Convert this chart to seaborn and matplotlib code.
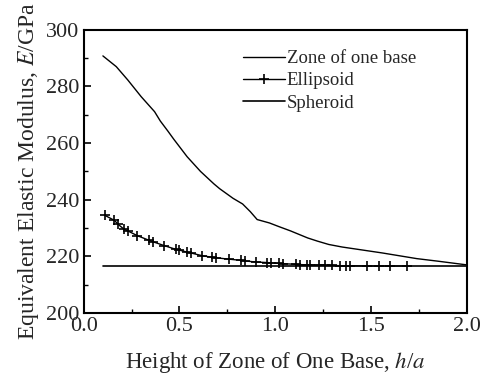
import numpy as np
import pandas as pd
import seaborn as sns
import matplotlib
matplotlib.use("Agg")
import matplotlib.pyplot as plt
from matplotlib.ticker import MultipleLocator

# 读图得到的数据
zone_x = [0.10, 0.17, 0.23, 0.30, 0.37, 0.40, 0.44, 0.47, 0.54, 0.61, 0.68,
          0.71, 0.78, 0.83, 0.87, 0.906, 0.97, 1.02, 1.08, 1.17, 1.22, 1.28,
          1.35, 1.42, 1.50, 1.56, 1.65, 1.74, 1.85, 2.0]
zone_y = [290.8, 287, 282.3, 276.4, 271.1, 267.8, 264.2, 261.4, 255.2, 250,
          245.6, 243.9, 240.5, 238.5, 235.8, 233, 231.8, 230.5, 229, 226.5,
          225.4, 224.2, 223.3, 222.6, 221.8, 221.2, 220.2, 219.2, 218.3, 217]

ell_x = [0.11, 0.16, 0.18, 0.21, 0.23, 0.28, 0.34, 0.36, 0.42, 0.48, 0.50,
         0.54, 0.56, 0.62, 0.67, 0.69, 0.76, 0.82, 0.84, 0.90, 0.96, 0.98,
         1.02, 1.04, 1.11, 1.13, 1.165, 1.18, 1.23, 1.26, 1.295, 1.34, 1.37,
         1.39, 1.48, 1.54, 1.60, 1.69]
ell_y = [234.5, 232.7, 231.3, 229.6, 229.0, 227.3, 225.7, 225.2, 223.8, 222.5,
         222.2, 221.5, 221.2, 220.2, 219.7, 219.5, 219.0, 218.6, 218.4, 218.0,
         217.8, 217.7, 217.5, 217.4, 217.2, 217.1, 217.0, 217.0, 216.9, 216.8,
         216.8, 216.7, 216.7, 216.7, 216.6, 216.6, 216.6, 216.6]

sph_x = [0.10, 2.0]
sph_y = [216.5, 216.5]

sns.set_style("ticks")
plt.rcParams['font.family'] = ['Liberation Serif', 'DejaVu Serif']
plt.rcParams['mathtext.fontset'] = 'stix'

df_zone = pd.DataFrame({'x': zone_x, 'y': zone_y})
df_ell = pd.DataFrame({'x': ell_x, 'y': ell_y})
df_sph = pd.DataFrame({'x': sph_x, 'y': sph_y})

fig, ax = plt.subplots(figsize=(4.87, 3.78), dpi=100)
sns.lineplot(data=df_zone, x='x', y='y', color='black', lw=1.0, ax=ax,
             label='Zone of one base')
sns.lineplot(data=df_ell, x='x', y='y', color='black', lw=1.0, marker='+',
             markersize=7, mew=1.2, mec='black', mfc='black', ax=ax,
             label='Ellipsoid')
sns.lineplot(data=df_sph, x='x', y='y', color='black', lw=1.2, ax=ax,
             label='Spheroid')

ax.set_xlim(0, 2.0)
ax.set_ylim(200, 300)
ax.xaxis.set_major_locator(MultipleLocator(0.5))
ax.xaxis.set_minor_locator(MultipleLocator(0.25))
ax.yaxis.set_major_locator(MultipleLocator(20))
ax.yaxis.set_minor_locator(MultipleLocator(10))
ax.tick_params(which='both', direction='in', labelsize=16, color='black')
ax.tick_params(which='major', length=5, width=1.2, pad=3)
ax.tick_params(which='minor', length=3, width=1.0)
for s in ax.spines.values():
    s.set_linewidth(1.5)
    s.set_color('black')

ax.set_xlabel('Height of Zone of One Base, $h$/$a$', fontsize=16.5, labelpad=10)
ax.set_ylabel('Equivalent Elastic Modulus, $E$/GPa', fontsize=17, labelpad=4)

leg = ax.legend(loc='upper left', frameon=False, fontsize=13.5,
                handlelength=2.2, handletextpad=0.1, labelspacing=0.28,
                borderpad=0, borderaxespad=0, bbox_to_anchor=(0.417, 0.929))

plt.subplots_adjust(left=0.172, right=0.958, top=0.921, bottom=0.172)
plt.savefig('out.png', dpi=100)
